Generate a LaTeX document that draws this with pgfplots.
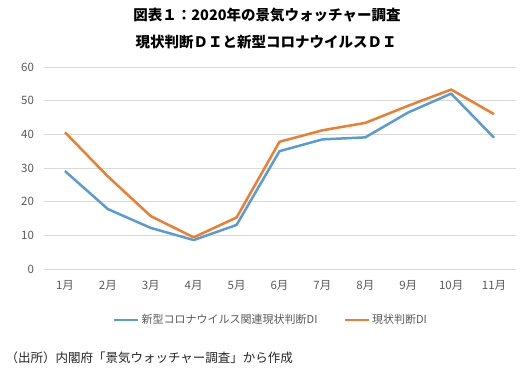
\documentclass[border=0pt]{standalone}
\usepackage{fontspec}
\setmainfont{Noto Sans CJK JP}
\usepackage{pgfplots}
\pgfplotsset{compat=1.18}
\definecolor{cblue}{HTML}{5B9BD5}
\definecolor{corange}{HTML}{ED7D31}
\definecolor{cgrid}{HTML}{D9D9D9}
\definecolor{ctext}{HTML}{595959}
\begin{document}
\begin{tikzpicture}
\path[use as bounding box] (0pt,0pt) rectangle (525pt,376pt);
\node[font=\fontsize{14.5}{16}\selectfont\bfseries] at (267pt,361pt) {図表１：2020年の景気ウォッチャー調査};
\node[font=\fontsize{14.5}{16}\selectfont\bfseries] at (266pt,334pt) {現状判断ＤＩと新型コロナウイルスＤＩ};
\begin{axis}[
  at={(43.5pt,107pt)}, anchor=south west, scale only axis,
  width=472pt, height=202pt,
  xmin=0.5, xmax=11.5, ymin=0, ymax=60,
  ytick={0,10,20,30,40,50,60},
  xtick={1,2,3,4,5,6,7,8,9,10,11},
  xticklabels={1月,2月,3月,4月,5月,6月,7月,8月,9月,10月,11月},
  ymajorgrids, grid style={cgrid, line width=0.9pt},
  axis line style={draw=none},
  major tick length=0pt,
  tick label style={font=\fontsize{11.5}{13}\selectfont, text=ctext},
  /pgf/number format/assume math mode=true,
  yticklabel style={xshift=-6pt},
  xticklabel style={yshift=-8pt},
  legend style={at={(0.482,-0.252)}, anchor=center, draw=none, fill=none,
    legend columns=2, font=\fontsize{11}{13}\selectfont, text=ctext,
    /tikz/every even column/.append style={column sep=24pt}},
  legend image code/.code={\draw[#1] (0pt,0pt) -- (24pt,0pt);},
  clip=false,
]
\addplot[cblue, line width=2.5pt, line join=round] coordinates {
(1,29.1) (2,17.8) (3,12.2) (4,8.6) (5,13.1) (6,35.0) (7,38.5) (8,39.1) (9,46.5) (10,52.1) (11,39.0)};
\addlegendentry{新型コロナウイルス関連現状判断DI}
\addplot[corange, line width=2.5pt, line join=round] coordinates {
(1,40.6) (2,27.5) (3,15.7) (4,9.4) (5,15.3) (6,37.8) (7,41.2) (8,43.4) (9,48.5) (10,53.3) (11,46.0)};
\addlegendentry{現状判断DI}
\end{axis}
\node[anchor=west, font=\fontsize{12.5}{14}\selectfont, text=black!85] at (2pt,18pt) {（出所）内閣府「景気ウォッチャー調査」から作成};
\end{tikzpicture}
\end{document}
